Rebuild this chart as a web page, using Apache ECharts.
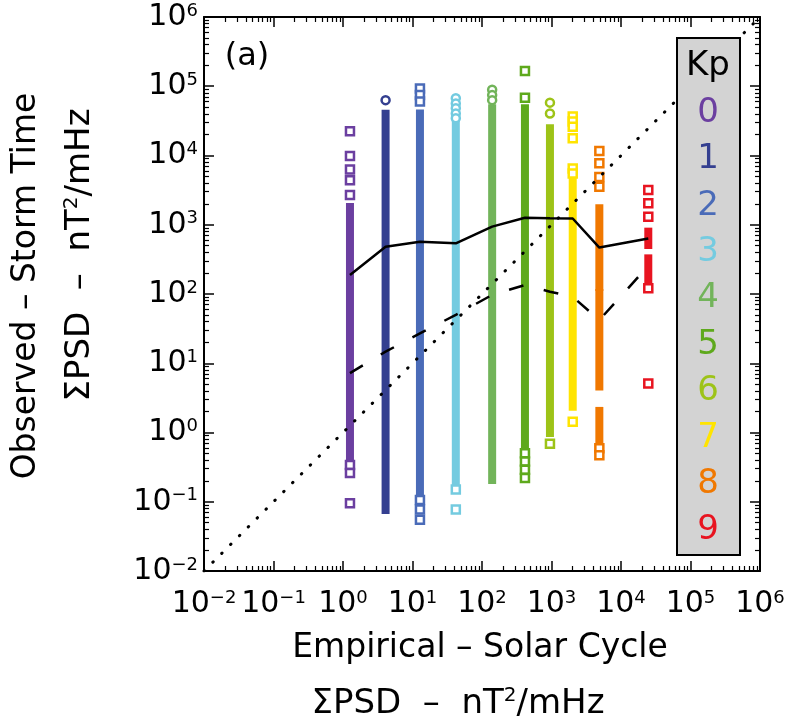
<!DOCTYPE html>
<html>
<head>
<meta charset="utf-8">
<script src="https://cdn.jsdelivr.net/npm/echarts@6/dist/echarts.min.js"></script>
<style>
html, body { margin: 0; padding: 0; background: #fff; }
#chart { width: 786px; height: 725px; }
</style>
</head>
<body>
<div id="chart"></div>
<script>
// Kp levels and their column positions on the empirical axis
const kpLevels = ['0', '1', '2', '3', '4', '5', '6', '7', '8', '9'];
const kpX = [1.26, 4.1, 12.8, 42, 140, 415, 950, 2020, 4880, 24700];

// dense parts of each column, [low, high]
const kpRanges = [
    [[0.45, 1800]],
    [[0.076, 40000]],
    [[0.125, 40500]],
    [[0.195, 30000]],
    [[0.206, 48000]],
    [[0.66, 48000]],
    [[0.98, 24700]],
    [[2.36, 4200]],
    [[126, 1730], [4.6, 103], [0.74, 2.05]],
    [[510, 795], [160, 327]]
];

// single points outside the dense parts
const kpOutliers = [
    [22400, 9800, 6300, 4400, 2700, 0.34, 0.26, 0.095],
    [63000],
    [93000, 74500, 60000, 0.106, 0.077, 0.055],
    [67000, 56500, 48000, 40500, 34600, 0.15, 0.077],
    [89000, 74500, 63000],
    [166000, 68000, 0.50, 0.38, 0.29, 0.22],
    [58000, 40500, 0.69],
    [36500, 31000, 26000, 17700, 6500, 5500, 1.43],
    [11600, 7700, 4900, 3550, 0.59, 0.47],
    [3170, 2040, 1310, 121, 5.1]
];

// median (solid) and lower (dashed) curves
const medianLine = [188, 480, 570, 540, 940, 1260, 1240, 1230, 468, 635];
const dashedLine = [7.2, 14.7, 27, 50, 97, 135, 108, 91, 42, 255];

// one-to-one line
const diagonal = [0.01, 1e6];

const decadeLabels = ['\u22122', '\u22121', '0', '1', '2', '3', '4', '5', '6'];

const kpColors = ['#6b3fa0', '#343f90', '#4a6bb8', '#74cbe0', '#72b45a',
    '#5ea91c', '#9dc318', '#ffe400', '#f07800', '#e81420'];
const circleKp = [1, 3, 4, 6];

const FONT = 'DejaVu Sans';

const chart = echarts.init(document.getElementById('chart'));

// minor tick positions in log space (2..9 of every decade)
let minorTicks = [];
for (let d = -2; d < 6; d++) {
    for (let k = 2; k <= 9; k++) {
        minorTicks.push(d + Math.log10(k));
    }
}

const tickLabel = {
    b: { fontSize: 30, fontFamily: FONT, color: '#000', lineHeight: 30 },
    s: { fontSize: 18, fontFamily: FONT, color: '#000', lineHeight: 18, verticalAlign: 'top' }
};

function logAxis(position, labels) {
    return {
        type: 'log',
        logBase: 10,
        min: 0.01,
        max: 1e6,
        interval: 1,
        position: position,
        axisLine: { show: true, onZero: false, lineStyle: { color: '#000', width: 2 } },
        axisTick: { show: true, inside: true, length: 10, lineStyle: { color: '#000', width: 1.5, type: 'solid' } },
        minorTick: { show: false },
        splitLine: { show: false },
        axisLabel: labels ? {
            show: true,
            margin: position === 'bottom' ? 18 : 6,
            formatter: function (value, index) {
                return '{b|10}{s|' + decadeLabels[index] + '}';
            },
            rich: tickLabel
        } : { show: false }
    };
}

function minorAxis(position) {
    return {
        type: 'value',
        min: -2,
        max: 6,
        position: position,
        axisLine: { show: false, onZero: false },
        axisTick: {
            show: true, inside: true, length: 5,
            customValues: minorTicks,
            lineStyle: { color: '#000', width: 1.2, type: 'solid' }
        },
        axisLabel: { show: false },
        splitLine: { show: false }
    };
}

let series = [];

// dense columns
kpRanges.forEach(function (ranges, i) {
    ranges.forEach(function (r) {
        series.push({
            type: 'line',
            xAxisIndex: 0,
            yAxisIndex: 0,
            data: [[kpX[i], r[0]], [kpX[i], r[1]]],
            symbol: 'none',
            silent: true,
            z: 2,
            lineStyle: { color: kpColors[i], width: 8, cap: 'square' }
        });
    });
});

// outliers
kpOutliers.forEach(function (vals, i) {
    series.push({
        type: 'scatter',
        xAxisIndex: 0,
        yAxisIndex: 0,
        data: vals.map(function (v) { return [kpX[i], v]; }),
        symbol: function (val) {
            return (circleKp.indexOf(i) >= 0 && val[1] > 1000) ? 'circle' : 'rect';
        },
        symbolSize: 8,
        z: 3,
        itemStyle: { color: '#fff', borderColor: kpColors[i], borderWidth: 2.5, opacity: 1 }
    });
});

series.push({
    type: 'line',
    xAxisIndex: 0,
    yAxisIndex: 0,
    data: kpX.map(function (x, i) { return [x, medianLine[i]]; }),
    symbol: 'none',
    z: 5,
    lineStyle: { color: '#000', width: 2.5 }
});

series.push({
    type: 'line',
    xAxisIndex: 0,
    yAxisIndex: 0,
    data: kpX.map(function (x, i) { return [x, dashedLine[i]]; }),
    symbol: 'none',
    z: 5,
    lineStyle: { color: '#000', width: 2.5, type: [15, 21] }
});

series.push({
    type: 'line',
    xAxisIndex: 0,
    yAxisIndex: 0,
    data: [[diagonal[0], diagonal[0]], [diagonal[1], diagonal[1]]],
    symbol: 'none',
    z: 5,
    lineStyle: { color: '#000', width: 3, type: [0.5, 12], cap: 'round' }
});

// legend box
let legendItems = [{
    type: 'rect',
    z: 100,
    shape: { x: 677, y: 38, width: 63, height: 517 },
    style: { fill: '#d3d3d3', stroke: '#000', lineWidth: 2 }
}, {
    type: 'text',
    z: 101,
    x: 708, y: 66,
    style: { text: 'Kp', fontSize: 34, fontFamily: FONT, fill: '#000', align: 'center', verticalAlign: 'middle' }
}];
kpLevels.forEach(function (k, i) {
    legendItems.push({
        type: 'text',
        z: 101,
        x: 708, y: 113 + i * 46.4,
        style: { text: k, fontSize: 34, fontFamily: FONT, fill: kpColors[i], align: 'center', verticalAlign: 'middle' }
    });
});

const titleRich = {
    t: { fontSize: 34, fontFamily: FONT, color: '#000', lineHeight: 36 },
    s: { fontSize: 20, fontFamily: FONT, color: '#000', lineHeight: 20, verticalAlign: 'top' }
};

let texts = [{
    type: 'text', z: 101, x: 247, y: 57,
    style: { text: '(a)', fontSize: 32, fontFamily: FONT, fill: '#000', align: 'center', verticalAlign: 'middle' }
}, {
    type: 'text', x: 480, y: 648,
    style: { text: 'Empirical \u2013 Solar Cycle', fontSize: 33, fontFamily: FONT, fill: '#000', align: 'center', verticalAlign: 'middle' }
}, {
    type: 'text', x: 458, y: 704,
    style: { text: '{t|\u03a3PSD  \u2013  nT}{s|2}{t|/mHz}', rich: titleRich, align: 'center', verticalAlign: 'middle' }
}, {
    type: 'text', x: 26, y: 286, rotation: Math.PI / 2,
    style: { text: 'Observed \u2013 Storm Time', fontSize: 33, fontFamily: FONT, fill: '#000', align: 'center', verticalAlign: 'middle' }
}, {
    type: 'text', x: 80, y: 255, rotation: Math.PI / 2,
    style: { text: '{t|\u03a3PSD  \u2013  nT}{s|2}{t|/mHz}', rich: titleRich, align: 'center', verticalAlign: 'middle' }
}];

chart.setOption({
    animation: false,
    backgroundColor: '#fff',
    grid: { left: 204, top: 17, width: 556, height: 554, outerBoundsMode: 'none' },
    xAxis: [logAxis('bottom', true), logAxis('top', false), minorAxis('bottom'), minorAxis('top')],
    yAxis: [logAxis('left', true), logAxis('right', false), minorAxis('left'), minorAxis('right')],
    series: series,
    graphic: legendItems.concat(texts)
});
</script>
</body>
</html>
